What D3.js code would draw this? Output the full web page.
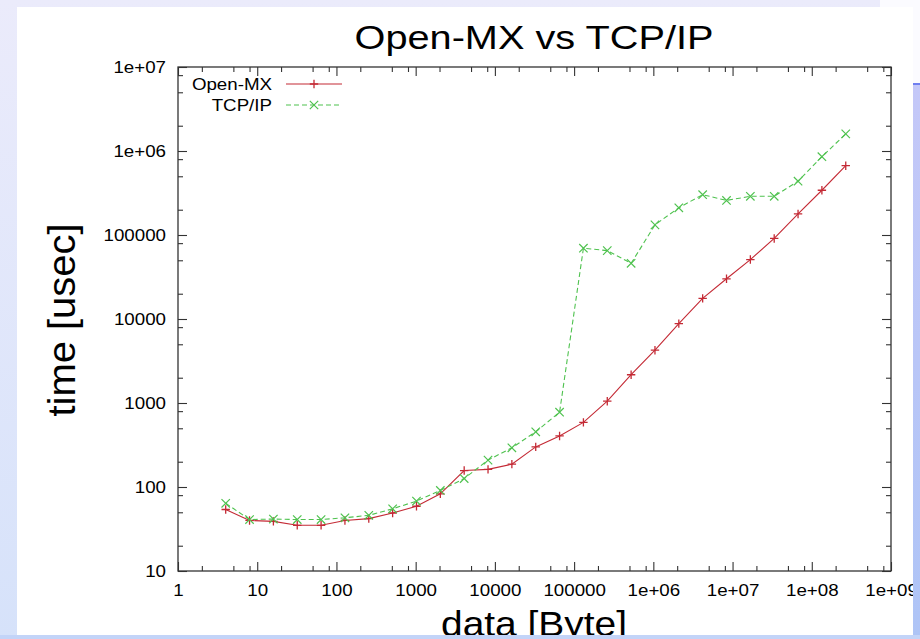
<!DOCTYPE html>
<html>
<head>
<meta charset="utf-8">
<script src="https://cdn.jsdelivr.net/npm/d3@7"></script>
<style>
  html, body { margin: 0; padding: 0; background: #e6e9fb; }
  svg { display: block; }
  text { font-family: "Liberation Sans", Arial, Helvetica, sans-serif; fill: #000; }
</style>
</head>
<body>
<svg id="chart" width="920" height="639"></svg>
<script>
// ---------------- data ----------------
const title = "Open-MX vs TCP/IP";
const xAxisTitle = "data [Byte]";
const yAxisTitle = "time [usec]";
const seriesNames = ["Open-MX", "TCP/IP"];

// message sizes (bytes)
const sizes = [4, 8, 16, 32, 64, 128, 256, 512, 1024, 2048, 4096, 8192, 16384, 32768,
  65536, 131072, 262144, 524288, 1048576, 2097152, 4194304, 8388608, 16777216,
  33554432, 67108864, 134217728, 268435456];

// time (usec)
const openMX = [54, 40, 39, 35, 35, 40, 42, 49, 59, 83, 157, 162, 187, 300,
  405, 588, 1050, 2170, 4250, 8800, 17600, 30100, 51000, 91000, 178000, 341000, 668000];
const tcpIP = [64, 41, 41.5, 41, 41, 43, 46, 55, 68, 91, 126, 209, 293, 454,
  777, 69600, 65200, 46000, 132000, 211000, 302000, 258000, 289000, 289000, 437000, 855000, 1600000];

const xMajor = [1, 10, 100, 1000, 10000, 100000, 1e6, 1e7, 1e8, 1e9];
const xTickLabels = ["1", "10", "100", "1000", "10000", "100000", "1e+06", "1e+07", "1e+08", "1e+09"];
const yMajor = [10, 100, 1000, 10000, 100000, 1e6, 1e7];
const yTickLabels = ["10", "100", "1000", "10000", "100000", "1e+06", "1e+07"];
const minorSteps = [2, 5, 8];

// ---------------- layout ----------------
const W = 920, H = 639;
const plot = { left: 178, right: 891, top: 67, bottom: 571 };
const panel = { x: 17, y: 7, w: 896, h: 628 };
const stretch = 1.17;

const svg = d3.select("#chart");

// background decoration (slide)
const defs = svg.append("defs");
const bg = defs.append("linearGradient").attr("id", "bg").attr("x1", 0).attr("y1", 0).attr("x2", 0).attr("y2", 1);
bg.append("stop").attr("offset", "0%").attr("stop-color", "#ebebfb");
bg.append("stop").attr("offset", "100%").attr("stop-color", "#d6e2fa");
svg.append("rect").attr("width", W).attr("height", H).attr("fill", "url(#bg)");
svg.append("rect").attr("x", 880).attr("y", 0).attr("width", 40).attr("height", 84).attr("fill", "#fbfbff");
const rb = defs.append("linearGradient").attr("id", "rb").attr("x1", 0).attr("y1", 0).attr("x2", 0).attr("y2", 1);
rb.append("stop").attr("offset", "0%").attr("stop-color", "#c4c8f8");
rb.append("stop").attr("offset", "100%").attr("stop-color", "#aec4f6");
svg.append("rect").attr("x", 905).attr("y", 83).attr("width", 15).attr("height", H - 83).attr("fill", "url(#rb)");
svg.append("line").attr("x1", 905).attr("x2", 920).attr("y1", 84).attr("y2", 84).attr("stroke", "#6f7ff0").attr("stroke-width", 2);
svg.append("rect").attr("x", 0).attr("y", 635).attr("width", W).attr("height", 4).attr("fill", "#c3d4f8");

defs.append("clipPath").attr("id", "panelClip").append("rect")
  .attr("x", panel.x).attr("y", panel.y).attr("width", panel.w).attr("height", panel.h);

const g = svg.append("g").attr("clip-path", "url(#panelClip)");
g.append("rect").attr("x", panel.x).attr("y", panel.y).attr("width", panel.w).attr("height", panel.h).attr("fill", "#fff");

// ---------------- scales ----------------
const x = d3.scaleLog().domain([1, 1e9]).range([plot.left, plot.right]);
const y = d3.scaleLog().domain([10, 1e7]).range([plot.bottom, plot.top]);

const xMinor = [];
xMajor.slice(0, -1).forEach(d => minorSteps.forEach(s => xMinor.push(d * s)));
const yMinor = [];
yMajor.slice(0, -1).forEach(d => minorSteps.forEach(s => yMinor.push(d * s)));

const axisColor = "#333";
function styleAxis(sel) {
  sel.select(".domain").remove();
  sel.selectAll(".tick line").attr("stroke", axisColor).attr("stroke-width", 1.1);
  sel.selectAll("text").attr("font-size", 16).attr("fill", "#000")
     .style("font-family", '"Liberation Sans", Arial, Helvetica, sans-serif');
}

// bottom
g.append("g").attr("transform", `translate(0,${plot.bottom})`)
  .call(d3.axisBottom(x).tickValues(xMajor).tickSize(-9).tickPadding(14).tickFormat((d, i) => xTickLabels[i]))
  .call(styleAxis);
g.append("g").attr("transform", `translate(0,${plot.bottom})`)
  .call(d3.axisBottom(x).tickValues(xMinor).tickSize(-5).tickFormat(""))
  .call(styleAxis);
// top
g.append("g").attr("transform", `translate(0,${plot.top})`)
  .call(d3.axisTop(x).tickValues(xMajor).tickSize(-9).tickFormat(""))
  .call(styleAxis);
g.append("g").attr("transform", `translate(0,${plot.top})`)
  .call(d3.axisTop(x).tickValues(xMinor).tickSize(-5).tickFormat(""))
  .call(styleAxis);
// left
g.append("g").attr("transform", `translate(${plot.left},0)`)
  .call(d3.axisLeft(y).tickValues(yMajor).tickSize(-9).tickPadding(12).tickFormat((d, i) => yTickLabels[i]))
  .call(styleAxis);
g.append("g").attr("transform", `translate(${plot.left},0)`)
  .call(d3.axisLeft(y).tickValues(yMinor).tickSize(-5).tickFormat(""))
  .call(styleAxis);
// right
g.append("g").attr("transform", `translate(${plot.right},0)`)
  .call(d3.axisRight(y).tickValues(yMajor).tickSize(-9).tickFormat(""))
  .call(styleAxis);
g.append("g").attr("transform", `translate(${plot.right},0)`)
  .call(d3.axisRight(y).tickValues(yMinor).tickSize(-5).tickFormat(""))
  .call(styleAxis);

// frame
g.append("rect").attr("x", plot.left).attr("y", plot.top)
  .attr("width", plot.right - plot.left).attr("height", plot.bottom - plot.top)
  .attr("fill", "none").attr("stroke", axisColor).attr("stroke-width", 1.3);

// ---------------- series ----------------
const colors = ["#c42a35", "#4fc24f"];
const dashes = [null, "5,3"];
const seriesData = [openMX, tcpIP];
const line = d3.line().x(d => x(d[0])).y(d => y(d[1]));

function drawMarker(sel, type, color) {
  const r = 4.2;
  if (type === 0) {
    sel.append("path").attr("d", `M${-r},0H${r}M0,${-r}V${r}`)
      .attr("stroke", color).attr("stroke-width", 1.3).attr("fill", "none");
  } else {
    sel.append("path").attr("d", `M${-r},${-r}L${r},${r}M${-r},${r}L${r},${-r}`)
      .attr("stroke", color).attr("stroke-width", 1.2).attr("fill", "none");
  }
}

seriesData.forEach((vals, si) => {
  const pts = sizes.map((s, i) => [s, vals[i]]);
  g.append("path").datum(pts).attr("d", line)
    .attr("fill", "none").attr("stroke", colors[si]).attr("stroke-width", 1.1)
    .attr("stroke-dasharray", dashes[si]);
  const mk = g.append("g").selectAll("g").data(pts).join("g")
    .attr("transform", d => `translate(${x(d[0])},${y(d[1])})`);
  mk.each(function () { drawMarker(d3.select(this), si, colors[si]); });
});

// ---------------- legend ----------------
const legY = [84, 105];
seriesNames.forEach((name, i) => {
  g.append("text").attr("x", 272).attr("y", legY[i]).attr("dy", "0.36em")
    .attr("text-anchor", "end").attr("font-size", 16).attr("class", "stretch").text(name);
  g.append("line").attr("x1", 286).attr("x2", 342).attr("y1", legY[i]).attr("y2", legY[i])
    .attr("stroke", colors[i]).attr("stroke-width", 1.1).attr("stroke-dasharray", dashes[i]);
  drawMarker(g.append("g").attr("transform", `translate(314,${legY[i]})`), i, colors[i]);
});

// ---------------- titles ----------------
g.append("text").attr("x", 534).attr("y", 49).attr("text-anchor", "middle")
  .attr("font-size", 34).attr("textLength", 359).attr("lengthAdjust", "spacingAndGlyphs").text(title);
g.append("text").attr("transform", "translate(75,320) rotate(-90)").attr("text-anchor", "middle")
  .attr("font-size", 38).attr("textLength", 193).attr("lengthAdjust", "spacingAndGlyphs").text(yAxisTitle);
g.append("text").attr("x", 534).attr("y", 636).attr("text-anchor", "middle")
  .attr("font-size", 35).attr("textLength", 186).attr("lengthAdjust", "spacingAndGlyphs").text(xAxisTitle);

// horizontal stretch of small text (the slide image is stretched)
g.selectAll(".tick text, text.stretch").each(function () {
  const len = this.getComputedTextLength();
  d3.select(this).attr("textLength", len * stretch).attr("lengthAdjust", "spacingAndGlyphs");
});
</script>
</body>
</html>
